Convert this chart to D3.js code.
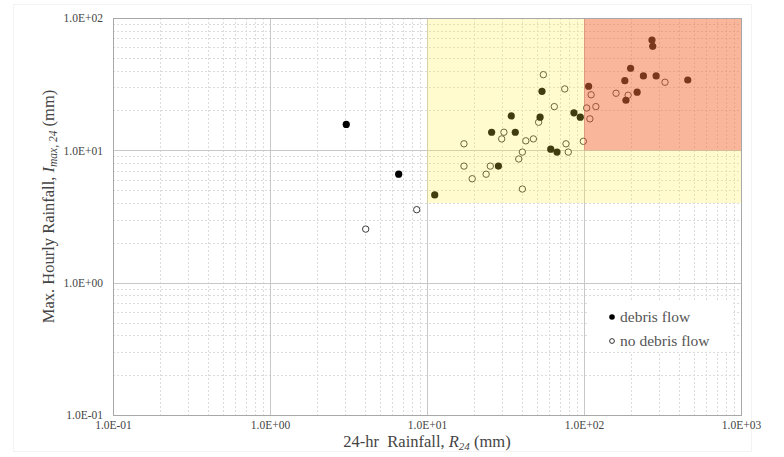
<!DOCTYPE html>
<html>
<head>
<meta charset="utf-8">
<script src="https://cdn.jsdelivr.net/npm/d3@7/dist/d3.min.js"></script>
<style>
  html, body { margin: 0; padding: 0; background: #fff; }
  svg { display: block; font-family: "Liberation Serif", "Times New Roman", serif; }
</style>
</head>
<body>
<svg id="chart" width="784" height="457"></svg>
<script>
// 24-hr rainfall R24 (mm) and max hourly rainfall Imax,24 (mm) for each event
const debrisR24 = [3.06, 6.6, 11.2, 25.8, 28.5, 34.4, 36.5, 52.5, 54.0, 61.4, 67.3, 86.3, 94.7,
                   107, 182, 198, 185, 218, 239, 271, 274, 288, 458];
const debrisImax = [15.7, 6.6, 4.6, 13.7, 7.6, 18.2, 13.7, 17.8, 27.9, 10.2, 9.7, 19.2, 17.8,
                    30.5, 33.6, 41.7, 23.9, 27.5, 36.5, 68.2, 61.1, 36.5, 34.0];
const noDebrisR24 = [4.07, 8.6, 17.2, 17.2, 19.4, 23.8, 25.3, 29.9, 30.9, 38.4, 40.5, 40.5, 42.6, 47.6,
                     51.4, 55.1, 64.7, 75.4, 76.8, 79.4, 99, 104, 109, 111, 119, 160, 191, 328];
const noDebrisImax = [2.54, 3.56, 11.2, 7.6, 6.1, 6.6, 7.6, 12.2, 13.7, 8.6, 9.7, 5.1, 11.8, 12.2,
                      16.3, 37.3, 21.4, 29.1, 11.2, 9.7, 11.7, 20.9, 17.3, 26.3, 21.4, 27.0, 26.1, 32.7];

// Threshold zones: [R24 min, R24 max, Imax min, Imax max]
const watchZone = [10, 1000, 4, 100];
const warningZone = [100, 1000, 10, 100];

const xTickValues = [0.1, 1, 10, 100, 1000];
const xTickLabels = ["1.0E-01", "1.0E+00", "1.0E+01", "1.0E+02", "1.0E+03"];
const yTickValues = [0.1, 1, 10, 100];
const yTickLabels = ["1.0E-01", "1.0E+00", "1.0E+01", "1.0E+02"];
const legendLabels = ["debris flow", "no debris flow"];

const svg = d3.select("#chart");
const plotL = 113, plotR = 741, plotT = 18, plotB = 415;

const x = d3.scaleLog().domain([0.1, 1000]).range([plotL, plotR]);
const y = d3.scaleLog().domain([0.1, 100]).range([plotB, plotT]);

// faint outer chart border
svg.append("rect").attr("x", 13.5).attr("y", 4.5).attr("width", 738).attr("height", 447)
  .attr("fill", "none").attr("stroke", "#f3f3f3");

// minor gridlines (2..9 within each decade)
const minorX = [], minorY = [];
for (let d = 0.1; d < 1000; d *= 10) for (let k = 2; k <= 9; k++) minorX.push(+(d * k).toPrecision(3));
for (let d = 0.1; d < 100; d *= 10) for (let k = 2; k <= 9; k++) minorY.push(+(d * k).toPrecision(3));

const grid = svg.append("g");
grid.selectAll(".mx").data(minorX).join("line")
  .attr("x1", d => Math.round(x(d)) + 0.5).attr("x2", d => Math.round(x(d)) + 0.5)
  .attr("y1", plotT).attr("y2", plotB)
  .attr("stroke", "#dcdcdc").attr("stroke-dasharray", "2,2");
grid.selectAll(".my").data(minorY).join("line")
  .attr("y1", d => Math.round(y(d)) + 0.5).attr("y2", d => Math.round(y(d)) + 0.5)
  .attr("x1", plotL).attr("x2", plotR)
  .attr("stroke", "#dcdcdc").attr("stroke-dasharray", "2,2");
grid.selectAll(".Mx").data(xTickValues).join("line")
  .attr("x1", d => Math.round(x(d)) + 0.5).attr("x2", d => Math.round(x(d)) + 0.5)
  .attr("y1", plotT).attr("y2", plotB).attr("stroke", "#c8c8c8");
grid.selectAll(".My").data(yTickValues).join("line")
  .attr("y1", d => Math.round(y(d)) + 0.5).attr("y2", d => Math.round(y(d)) + 0.5)
  .attr("x1", plotL).attr("x2", plotR).attr("stroke", "#c8c8c8");

// event points
const debris = debrisR24.map((r, i) => [r, debrisImax[i]]);
const noDebris = noDebrisR24.map((r, i) => [r, noDebrisImax[i]]);

svg.append("g").selectAll("circle").data(noDebris).join("circle")
  .attr("cx", d => x(d[0])).attr("cy", d => y(d[1])).attr("r", 3.2)
  .attr("fill", "#fff").attr("stroke", "#3a3a3a").attr("stroke-width", 1);
svg.append("g").selectAll("circle").data(debris).join("circle")
  .attr("cx", d => x(d[0])).attr("cy", d => y(d[1])).attr("r", 3.6)
  .attr("fill", "#000");

// translucent threshold zones laid over the points
const zr = z => ({ x0: x(z[0]), x1: x(z[1]), y0: y(z[3]), y1: y(z[2]) });
const w = zr(watchZone), r = zr(warningZone);
svg.append("path")
  .attr("d", `M${w.x0},${w.y0}H${w.x1}V${w.y1}H${w.x0}Z M${r.x0},${r.y0}H${r.x1}V${r.y1}H${r.x0}Z`)
  .attr("fill-rule", "evenodd")
  .attr("fill", "rgb(255,238,60)").attr("fill-opacity", 0.25);
svg.append("rect")
  .attr("x", r.x0).attr("y", r.y0).attr("width", r.x1 - r.x0).attr("height", r.y1 - r.y0)
  .attr("fill", "rgb(243,109,56)").attr("fill-opacity", 0.5);

// plot frame
svg.append("rect").attr("x", plotL + 0.5).attr("y", plotT + 0.5)
  .attr("width", plotR - plotL).attr("height", plotB - plotT)
  .attr("fill", "none").attr("stroke", "#a8a8a8");

// axes tick labels
const xAxis = d3.axisBottom(x).tickValues(xTickValues)
  .tickFormat((d, i) => xTickLabels[i]).tickSize(0).tickPadding(6);
const gx = svg.append("g").attr("transform", `translate(0,${plotB})`).call(xAxis);
gx.select(".domain").remove();
gx.selectAll("text").attr("font-family", "Liberation Serif").attr("font-size", 11.5).attr("fill", "#444");

const yAxis = d3.axisLeft(y).tickValues(yTickValues)
  .tickFormat((d, i) => yTickLabels[i]).tickSize(0).tickPadding(10);
const gy = svg.append("g").attr("transform", `translate(${plotL},0)`).call(yAxis);
gy.select(".domain").remove();
gy.selectAll("text").attr("font-family", "Liberation Serif").attr("font-size", 11.5).attr("fill", "#444");

// axis titles
const xt = svg.append("text").attr("x", (plotL + plotR) / 2).attr("y", 447)
  .attr("text-anchor", "middle").attr("font-size", 16.5).attr("fill", "#444")
  .attr("xml:space", "preserve");
xt.append("tspan").text("24-hr  Rainfall, ");
xt.append("tspan").attr("font-style", "italic").text("R");
xt.append("tspan").attr("font-style", "italic").attr("font-size", 11).attr("dy", 3).text("24");
xt.append("tspan").attr("dy", -3).text(" (mm)");

const yt = svg.append("text")
  .attr("transform", `translate(54,${(plotT + plotB) / 2 - 10}) rotate(-90)`)
  .attr("text-anchor", "middle").attr("font-size", 16.5).attr("fill", "#444");
yt.append("tspan").text("Max. Hourly Rainfall, ");
yt.append("tspan").attr("font-style", "italic").text("I");
yt.append("tspan").attr("font-style", "italic").attr("font-size", 11.5).attr("dy", 3).text("max, 24");
yt.append("tspan").attr("dy", -3).text(" (mm)");

// legend
const lg = svg.append("g");
lg.append("rect").attr("x", 588).attr("y", 300).attr("width", 143).attr("height", 52).attr("fill", "#fff");
legendLabels.forEach((t, i) => {
  const cy = 317 + i * 24;
  lg.append("circle").attr("cx", 612).attr("cy", cy).attr("r", i === 0 ? 2.8 : 2.4)
    .attr("fill", i === 0 ? "#000" : "#fff").attr("stroke", i === 0 ? "none" : "#333").attr("stroke-width", 1);
  lg.append("text").attr("x", 620).attr("y", cy).attr("dy", "0.35em")
    .attr("font-family", "Liberation Serif")
    .attr("font-size", 15.5).attr("fill", "#555").text(t);
});
</script>
</body>
</html>
